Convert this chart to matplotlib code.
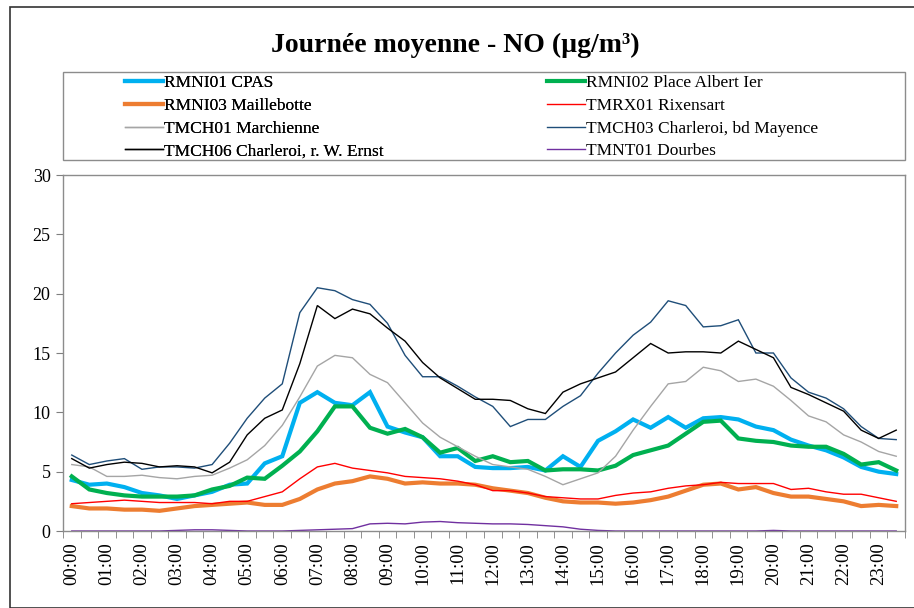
import matplotlib
matplotlib.use('Agg')
import matplotlib.pyplot as plt
from matplotlib.patches import Rectangle

plt.rcParams['font.family'] = ['Liberation Serif', 'DejaVu Serif']

# half-hour slots 00:00 .. 23:30
times = ['%02d:%02d' % (h, m) for h in range(24) for m in (0, 30)]

rmni01 = [4.3, 3.9, 4.0, 3.7, 3.2, 3.0, 2.7, 3.0, 3.3, 3.9, 4.0, 5.7,
          6.3, 10.8, 11.7, 10.8, 10.6, 11.7, 8.8, 8.3, 7.9, 6.3, 6.3, 5.4,
          5.3, 5.3, 5.4, 5.1, 6.3, 5.4, 7.6, 8.4, 9.4, 8.7, 9.6, 8.7,
          9.5, 9.6, 9.4, 8.8, 8.5, 7.7, 7.2, 6.8, 6.2, 5.4, 5.0, 4.8]
rmni02 = [4.6, 3.5, 3.2, 3.0, 2.9, 2.9, 2.9, 3.0, 3.5, 3.8, 4.5, 4.4,
          5.5, 6.7, 8.4, 10.5, 10.5, 8.7, 8.2, 8.6, 7.9, 6.6, 7.0, 5.9,
          6.3, 5.8, 5.9, 5.1, 5.2, 5.2, 5.1, 5.5, 6.4, 6.8, 7.2, 8.2,
          9.2, 9.3, 7.8, 7.6, 7.5, 7.2, 7.1, 7.1, 6.5, 5.6, 5.8, 5.1]
rmni03 = [2.1, 1.9, 1.9, 1.8, 1.8, 1.7, 1.9, 2.1, 2.2, 2.3, 2.4, 2.2,
          2.2, 2.7, 3.5, 4.0, 4.2, 4.6, 4.4, 4.0, 4.1, 4.0, 4.0, 3.9,
          3.6, 3.4, 3.2, 2.8, 2.5, 2.4, 2.4, 2.3, 2.4, 2.6, 2.9, 3.4,
          3.9, 4.0, 3.5, 3.7, 3.2, 2.9, 2.9, 2.7, 2.5, 2.1, 2.2, 2.1]
tmrx01 = [2.3, 2.4, 2.5, 2.6, 2.5, 2.4, 2.4, 2.4, 2.3, 2.5, 2.5, 2.9,
          3.3, 4.4, 5.4, 5.7, 5.3, 5.1, 4.9, 4.6, 4.5, 4.4, 4.2, 3.9,
          3.4, 3.4, 3.2, 2.9, 2.8, 2.7, 2.7, 3.0, 3.2, 3.3, 3.6, 3.8,
          3.9, 4.1, 4.0, 4.0, 4.0, 3.5, 3.6, 3.3, 3.1, 3.1, 2.8, 2.5]
tmch01 = [5.6, 5.4, 4.6, 4.6, 4.7, 4.5, 4.4, 4.6, 4.7, 5.3, 6.0, 7.2,
          8.9, 11.3, 13.9, 14.8, 14.6, 13.2, 12.5, 10.8, 9.1, 7.9, 7.1, 6.3,
          5.6, 5.4, 5.2, 4.6, 3.9, 4.4, 4.9, 6.3, 8.5, 10.5, 12.4, 12.6,
          13.8, 13.5, 12.6, 12.8, 12.2, 11.0, 9.7, 9.2, 8.1, 7.5, 6.7, 6.3]
tmch03 = [6.4, 5.6, 5.9, 6.1, 5.2, 5.4, 5.4, 5.3, 5.6, 7.4, 9.5, 11.2,
          12.4, 18.4, 20.5, 20.25, 19.5, 19.1, 17.5, 14.8, 13.0, 13.0, 12.2, 11.3,
          10.5, 8.8, 9.4, 9.4, 10.5, 11.4, 13.3, 15.0, 16.5, 17.6, 19.4, 19.0,
          17.2, 17.3, 17.8, 15.0, 15.0, 12.9, 11.7, 11.2, 10.3, 8.8, 7.8, 7.7]
tmch06 = [6.1, 5.3, 5.6, 5.8, 5.7, 5.4, 5.5, 5.4, 4.9, 5.8, 8.1, 9.5,
          10.2, 14.1, 19.0, 17.9, 18.7, 18.3, 17.1, 16.0, 14.2, 12.9, 12.0, 11.1,
          11.1, 11.0, 10.3, 9.9, 11.7, 12.4, 12.9, 13.4, 14.6, 15.8, 15.0, 15.1,
          15.1, 15.0, 16.0, 15.3, 14.6, 12.1, 11.5, 10.8, 10.1, 8.5, 7.8, 8.5]
tmnt01 = [0.0, 0.0, 0.0, 0.0, 0.0, 0.0, 0.05, 0.1, 0.1, 0.05, 0.0, 0.0,
          0.0, 0.05, 0.1, 0.15, 0.2, 0.6, 0.65, 0.6, 0.75, 0.8, 0.7, 0.65,
          0.6, 0.6, 0.55, 0.45, 0.35, 0.15, 0.05, 0.0, 0.0, 0.0, 0.0, 0.0,
          0.0, 0.0, 0.0, 0.0, 0.05, 0.0, 0.0, 0.0, 0.0, 0.0, 0.0, 0.0]

series = [
    ('RMNI01 CPAS', rmni01, '#00B0F0', 3.0),
    ('RMNI02 Place Albert Ier', rmni02, '#00B050', 3.0),
    ('RMNI03 Maillebotte', rmni03, '#ED7D31', 3.0),
    ('TMRX01 Rixensart', tmrx01, '#FF0000', 1.0),
    ('TMCH01 Marchienne', tmch01, '#A5A5A5', 1.0),
    ('TMCH03 Charleroi, bd Mayence', tmch03, '#1F4E79', 1.0),
    ('TMCH06 Charleroi, r. W. Ernst', tmch06, '#000000', 1.0),
    ('TMNT01 Dourbes', tmnt01, '#7030A0', 1.0),
]

W, H = 914, 608
fig = plt.figure(figsize=(W / 100, H / 100), dpi=100)

# outer chart border
fig.patches.append(Rectangle((10 / W, 0), 1, 1 - 7 / H, transform=fig.transFigure,
                             fill=False, edgecolor='#333333', lw=1.2))

ax = fig.add_axes([63 / W, 77 / H, 842 / W, 356 / H])
x = list(range(len(times)))
handles = []
for name, vals, col, lw in series:
    h, = ax.plot(x, vals, color=col, lw=lw, label=name, solid_joinstyle='miter')
    handles.append(h)

ax.set_xlim(-0.5, len(times) - 0.5)
ax.set_ylim(0, 30)
ax.set_yticks(range(0, 31, 5))
ax.set_xticks(x[::2])
ax.set_xticklabels(times[::2], rotation=90)
ax.set_xticks([i - 0.5 for i in range(len(times) + 1)], minor=True)
ax.tick_params(axis='x', which='major', length=0, pad=8, labelsize=13.5)
ax.tick_params(axis='x', which='minor', length=5, color='#7f7f7f', direction='out')
ax.tick_params(axis='y', length=5, color='#7f7f7f', labelsize=13, pad=4)
for s in ax.spines.values():
    s.set_color('#8c8c8c')
    s.set_linewidth(1.0)

fig.text(455 / W, 1 - 45 / H, 'Journée moyenne - NO (µg/m³)', ha='center', va='center',
         fontsize=20, fontweight='bold')

# legend frame
fig.patches.append(Rectangle((63 / W, 1 - 160 / H), 842 / W, 88 / H, transform=fig.transFigure,
                             fill=False, edgecolor='#8c8c8c', lw=1.0))

kw = dict(frameon=False, loc='upper left', fontsize=12.5, handlelength=2.2,
          handletextpad=0.05, labelspacing=0.38, borderpad=0, borderaxespad=0)
leg1 = fig.legend(handles[0::2], [h.get_label() for h in handles[0::2]],
                  bbox_to_anchor=(125 / W, 1 - 75 / H), **kw)
fig.add_artist(leg1)
fig.legend(handles[1::2], [h.get_label() for h in handles[1::2]],
           bbox_to_anchor=(547 / W, 1 - 75 / H), **kw)

fig.savefig('out.png', dpi=100)
